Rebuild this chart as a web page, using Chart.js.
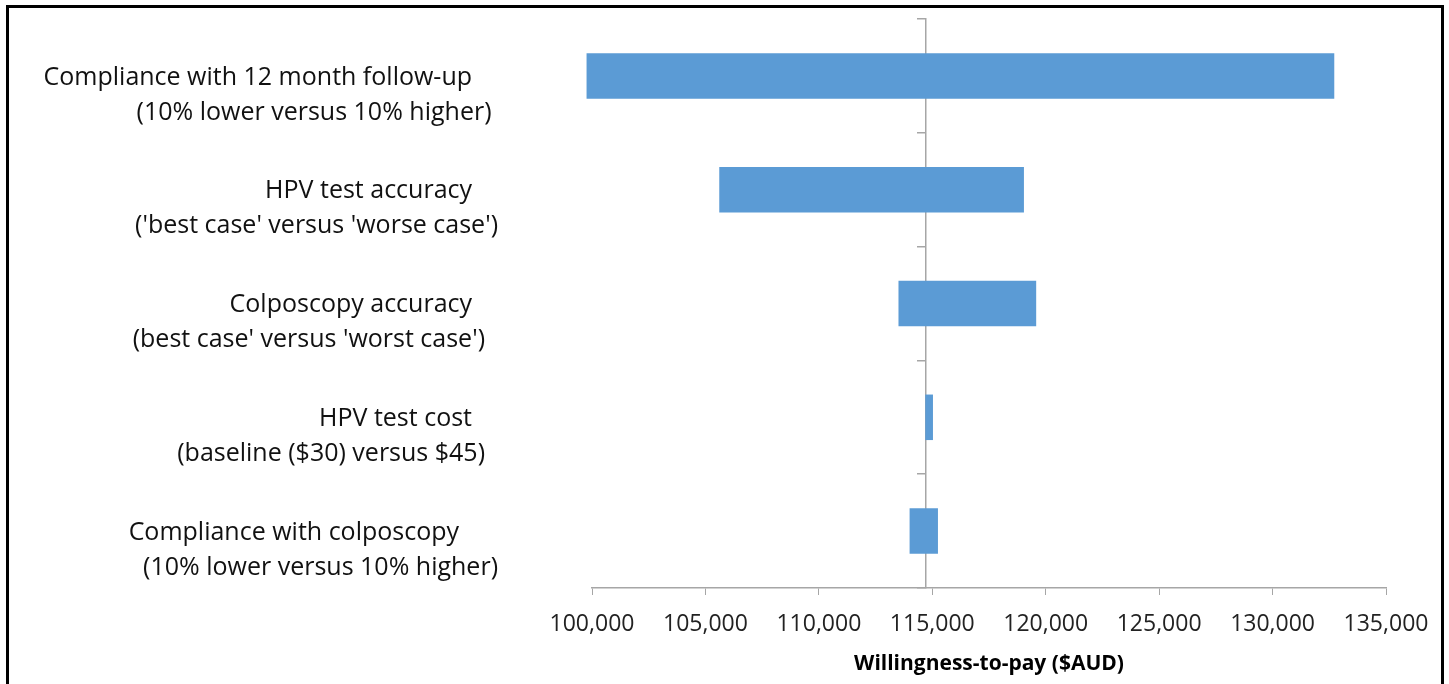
<!DOCTYPE html>
<html>
<head>
<meta charset="utf-8">
<script src="https://cdn.jsdelivr.net/npm/chart.js@4/dist/chart.umd.min.js"></script>
<style>
  html, body { margin: 0; padding: 0; background: #fff; overflow: hidden; }
  #wrap { position: relative; width: 1449px; height: 684px; }
  #frame { position: absolute; left: 6px; top: 5px; width: 1432px; height: 690px;
           border: 3px solid #000; pointer-events: none; }
</style>
</head>
<body>
<div id="wrap">
  <canvas id="tornado" width="1449" height="684"></canvas>
  <div id="frame"></div>
</div>
<script>
// parameters (two lines each, trailing spaces mimic the original alignment)
const categories = [
    ['Compliance with 12 month follow-up    ', '(10% lower versus 10% higher) '],
    ['HPV test accuracy    ', "('best case' versus 'worse case')"],
    ['Colposcopy accuracy    ', "(best case' versus 'worst case')  "],
    ['HPV test cost    ', '(baseline ($30) versus $45)  '],
    ['Compliance with colposcopy      ', '(10% lower versus 10% higher)']
]
const lowValues = [99760, 105610, 113510, 114690, 114000]
const highValues = [132720, 119040, 119580, 115030, 115250]
const baseline = 114690
const xTicks = [100000, 105000, 110000, 115000, 120000, 125000, 130000, 135000]

const fontFamily = '"Open Sans", sans-serif'
const axisGray = '#a6a6a6'

const chart = new Chart(document.getElementById('tornado'), {
    type: 'bar',
    data: {
        labels: categories,
        datasets: [{
            data: categories.map((c, i) => [lowValues[i], highValues[i]]),
            backgroundColor: '#5b9bd5',
            borderWidth: 0,
            categoryPercentage: 1,
            barPercentage: 0.4,
            clip: false,
            yAxisID: 'y'
        }]
    },
    options: {
        indexAxis: 'y',
        responsive: false,
        animation: false,
        layout: { padding: { left: 7, right: 63, top: 19, bottom: 0 } },
        plugins: { legend: { display: false }, tooltip: { enabled: false } },
        scales: {
            x: {
                type: 'linear',
                min: 100000,
                max: 135000,
                afterBuildTicks: (s) => { s.ticks = xTicks.map(v => ({ value: v })) },
                afterFit: (s) => { s.height = 96 },
                grid: { display: true, drawOnChartArea: false, drawTicks: true, tickLength: 7, color: axisGray },
                border: { display: true, color: axisGray, width: 1.5 },
                ticks: {
                    color: '#222',
                    padding: 16,
                    font: { family: fontFamily, size: 23 },
                    callback: (v) => v.toLocaleString('en-US')
                },
                title: {
                    display: true,
                    text: 'Willingness-to-pay ($AUD)',
                    color: '#000',
                    font: { family: fontFamily, size: 21, weight: 'bold' },
                    padding: { top: 0, bottom: 7 }
                }
            },
            y: {
                type: 'category',
                position: 'left',
                offset: true,
                afterFit: (s) => { s.width = 585; s.paddingTop = 0; s.paddingBottom = 0 },
                // tick marks are hidden; their length only pushes the labels left
                grid: { display: false, drawTicks: true, tickLength: 94 },
                border: { display: false },
                ticks: {
                    color: '#111',
                    padding: 0,
                    labelOffset: 19,
                    font: { family: fontFamily, size: 25, lineHeight: 1.4 }
                }
            },
            y2: {
                type: 'category',
                position: { x: baseline },
                offset: true,
                grid: { display: true, offset: true, drawOnChartArea: false, drawTicks: true, tickLength: 8, color: axisGray, lineWidth: 1.5 },
                border: { display: true, color: axisGray, width: 1.5 },
                ticks: { display: false }
            }
        }
    }
})
</script>
</body>
</html>
